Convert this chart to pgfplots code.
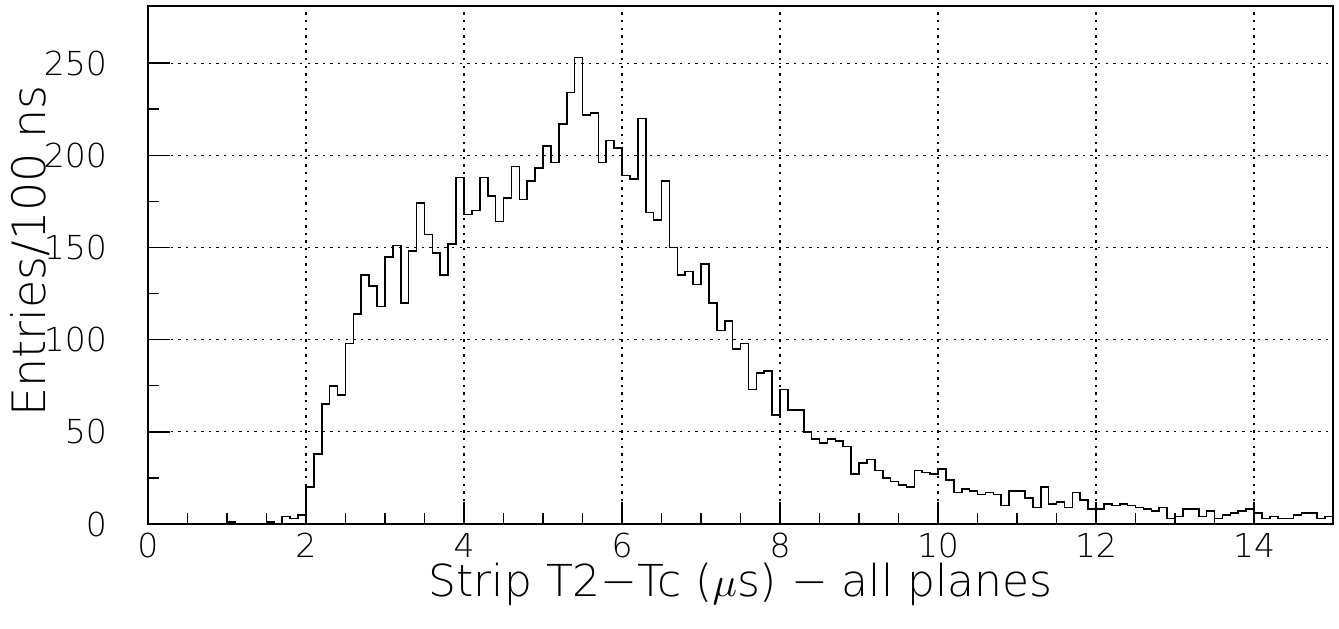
\documentclass[border=0pt]{standalone}
\usepackage{fontspec}
\setmainfont{DejaVu Sans ExtraLight}
\usepackage{pgfplots}
\pgfplotsset{compat=1.18}
\begin{document}
\begin{tikzpicture}
\path[use as bounding box] (-74pt,-52pt) rectangle (595.5pt,262pt);
\begin{axis}[
  at={(0,0)}, anchor=south west,
  scale only axis, width=592.5pt, height=259pt,
  xmin=0, xmax=15, ymin=0, ymax=281,
  xtick={0,2,...,14}, ytick={0,50,...,250},
  minor x tick num=3, minor y tick num=1,
  tick align=inside, tick pos=left,
  major tick length=11pt, minor tick length=5.5pt,
  grid=major,
  major grid style={black, line width=0.6pt, dash pattern=on 1.2pt off 2.6pt},
  axis line style={line width=0.75pt},
  every tick/.style={black, line width=0.75pt},
  ticklabel style={font=\fontsize{16.5}{16.5}\selectfont},
  /pgf/number format/assume math mode=true,
  xticklabel shift=1pt, yticklabel shift=17pt,
  xlabel={Strip T2−Tc ($\mu$s) − all planes},
  ylabel={Entries/100 ns},
  every axis x label/.style={font=\fontsize{22}{22}\selectfont, at={(axis description cs:0.5,0)}, anchor=center, yshift=-30pt},
  every axis y label/.style={font=\fontsize{23}{23}\selectfont, at={(axis description cs:0,0.5)}, rotate=90, anchor=center, yshift=59pt, xshift=7pt},
]
\addplot[const plot, black, line width=0.8pt] table {
x y
0.0 0
0.1 0
0.2 0
0.3 0
0.4 0
0.5 0
0.6 0
0.7 0
0.8 0
0.9 0
1.0 1
1.1 0
1.2 0
1.3 0
1.4 0
1.5 1
1.6 0
1.7 4
1.8 3
1.9 5
2.0 20
2.1 38
2.2 65
2.3 75
2.4 70
2.5 98
2.6 114
2.7 135
2.8 129
2.9 118
3.0 145
3.1 151
3.2 120
3.3 148
3.4 174
3.5 157
3.6 147
3.7 135
3.8 152
3.9 188
4.0 168
4.1 170
4.2 188
4.3 178
4.4 164
4.5 177
4.6 194
4.7 176
4.8 186
4.9 193
5.0 205
5.1 196
5.2 217
5.3 234
5.4 253
5.5 222
5.6 223
5.7 196
5.8 208
5.9 204
6.0 189
6.1 187
6.2 220
6.3 169
6.4 165
6.5 186
6.6 150
6.7 135
6.8 137
6.9 130
7.0 141
7.1 120
7.2 105
7.3 110
7.4 95
7.5 98
7.6 73
7.7 82
7.8 83
7.9 59
8.0 73
8.1 62
8.2 62
8.3 50
8.4 46
8.5 44
8.6 46
8.7 45
8.8 42
8.9 27
9.0 33
9.1 35
9.2 29
9.3 25
9.4 23
9.5 21
9.6 20
9.7 29
9.8 28
9.9 27
10.0 30
10.1 24
10.2 17
10.3 19
10.4 18
10.5 16
10.6 17
10.7 16
10.8 10
10.9 18
11.0 18
11.1 14
11.2 9
11.3 20
11.4 11
11.5 12
11.6 9
11.7 17
11.8 13
11.9 8
12.0 8
12.1 11
12.2 10
12.3 11
12.4 10
12.5 9
12.6 8
12.7 7
12.8 9
12.9 3
13.0 4
13.1 8
13.2 8
13.3 4
13.4 7
13.5 3
13.6 5
13.7 6
13.8 7
13.9 8
14.0 6
14.1 3
14.2 4
14.3 3
14.4 3
14.5 5
14.6 6
14.7 6
14.8 3
14.9 4
15.0 4
};
\end{axis}
\end{tikzpicture}
\end{document}
